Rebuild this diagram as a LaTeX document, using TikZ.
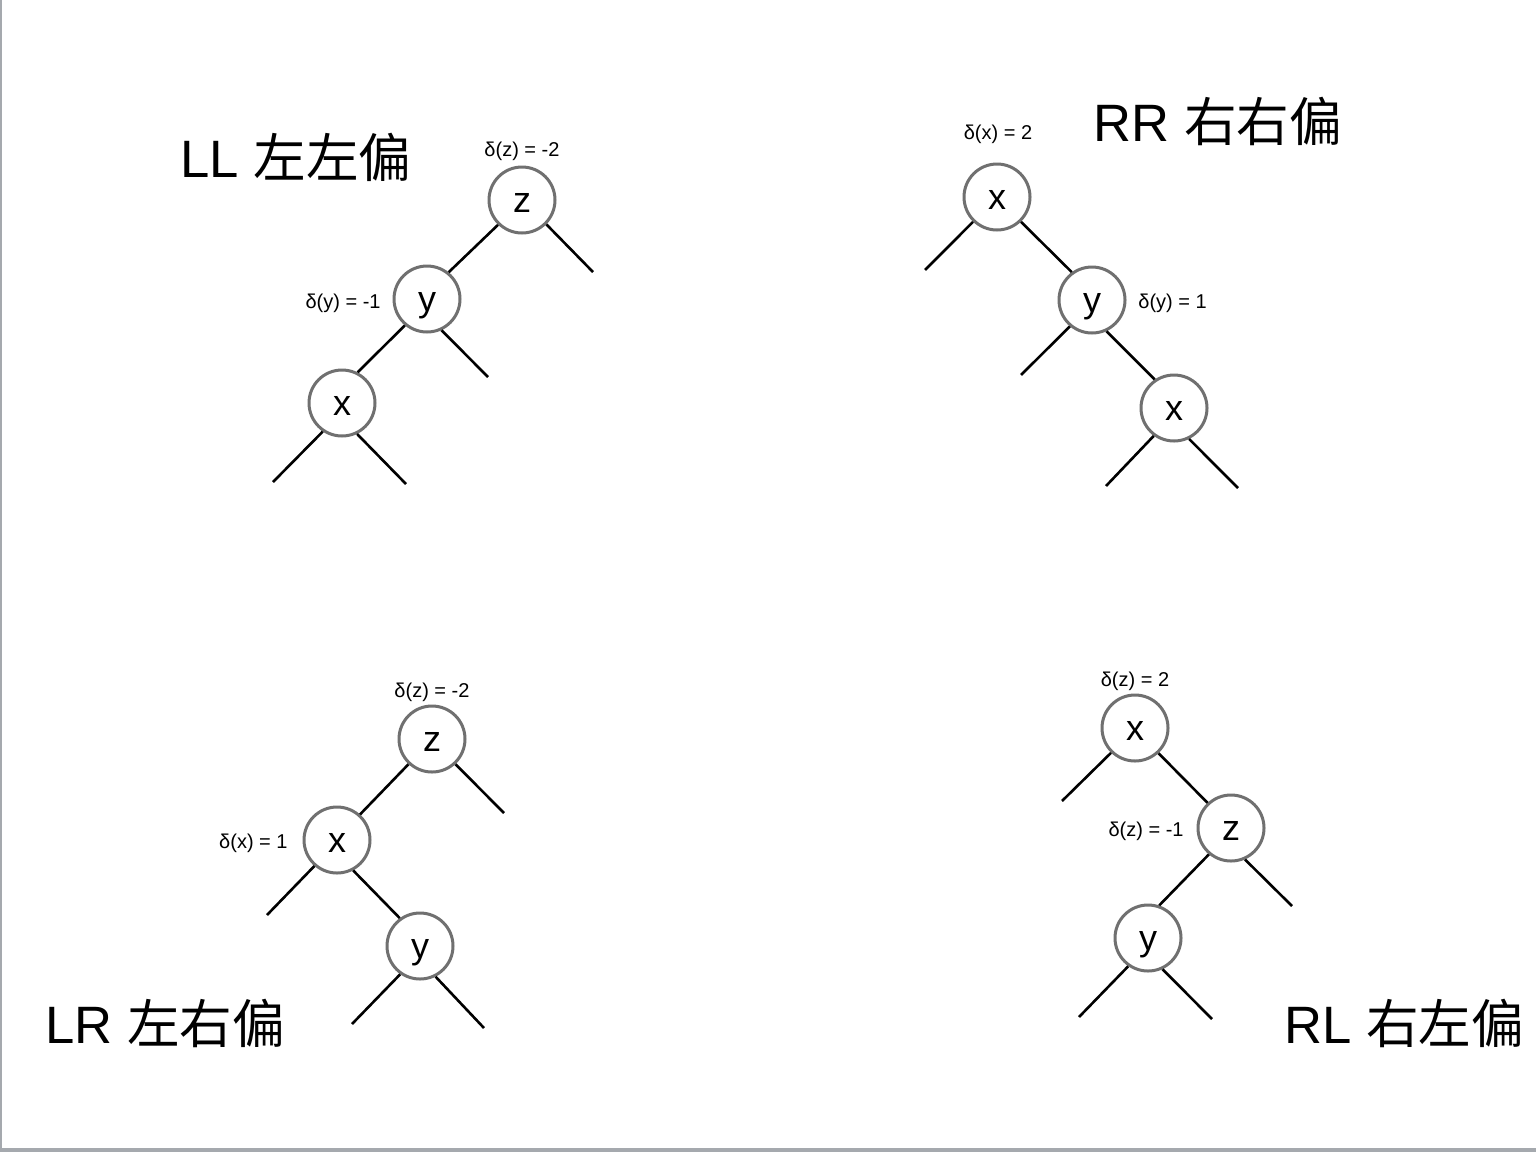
\documentclass[tikz,border=0pt]{standalone}
\usepackage{fontspec}
\setmainfont{Liberation Sans}
\newfontfamily\cjk{Noto Sans CJK SC}
\definecolor{circgray}{RGB}{112,112,112}
\definecolor{bordergray}{RGB}{165,169,174}
\begin{document}
\begin{tikzpicture}[x=0.5pt,y=-0.5pt,
  tn/.style={circle, draw=circgray, line width=1.5pt, minimum size=33pt, inner sep=0pt,
    font=\fontsize{18}{18}\selectfont, text height=14pt, text depth=1.7pt},
  br/.style={line width=1.3pt, black},
  lbl/.style={font=\fontsize{10}{12}\selectfont, inner sep=0pt},
  ttl/.style={font=\fontsize{26.3}{30}\selectfont, inner sep=0pt, anchor=base west}]
\path[use as bounding box] (0,0) rectangle (1536,1152);
\fill[white] (0,0) rectangle (1536,1152);
\fill[bordergray] (0,0) rectangle (2,1152);
\fill[bordergray] (0,1148) rectangle (1536,1152);

% ---------- LL ----------
\node[ttl] (llt) at (180,177) {LL {\cjk 左左偏}};
\node[tn] (llz) at (522,200) {z};
\node[tn] (lly) at (427,299) {y};
\node[tn] (llx) at (342,403) {x};
\node[lbl, anchor=base] (llzl) at (522,156) {δ(z) = -2};
\node[lbl, anchor=base east] (llyl) at (381,308) {δ(y) = -1};
\coordinate (llzr) at (593,272);
\coordinate (llyr) at (488,377);
\coordinate (llxa) at (273,482);
\coordinate (llxb) at (406,484);
\draw[br] (llz.226) -- (lly.51);
\draw[br] (lly.230) -- (llx.63);
\draw[br] (llz.-45) -- (llzr);
\draw[br] (lly.-65) -- (llyr);
\draw[br] (llx.236) -- (llxa);
\draw[br] (llx.-64) -- (llxb);

% ---------- RR ----------
\node[ttl] (rrt) at (1093,141) {RR {\cjk 右右偏}};
\node[tn] (rrx) at (997,197) {x};
\node[tn] (rry) at (1092,300) {y};
\node[tn] (rrx2) at (1174,408) {x};
\node[lbl, anchor=base] (rrxl) at (998,139) {δ(x) = 2};
\node[lbl, anchor=base west] (rryl) at (1138,308) {δ(y) = 1};
\coordinate (rrxa) at (925,270);
\coordinate (rrya) at (1021,375);
\coordinate (rrx2a) at (1106,486);
\coordinate (rrx2b) at (1238,488);
\draw[br] (rrx.-46) -- (rry.126);
\draw[br] (rry.-65) -- (rrx2.124);
\draw[br] (rrx.226) -- (rrxa);
\draw[br] (rry.230) -- (rrya);
\draw[br] (rrx2.234) -- (rrx2a);
\draw[br] (rrx2.-64) -- (rrx2b);

% ---------- LR ----------
\node[ttl] (lrt) at (45,1043) {LR {\cjk 左右偏}};
\node[tn] (lrz) at (432,739) {z};
\node[tn] (lrx) at (337,840) {x};
\node[tn] (lry) at (420,946) {y};
\node[lbl, anchor=base] (lrzl) at (432,697) {δ(z) = -2};
\node[lbl, anchor=base east] (lrxl) at (288,848) {δ(x) = 1};
\coordinate (lrzr) at (504,813);
\coordinate (lrxa) at (267,915);
\coordinate (lrya) at (352,1024);
\coordinate (lryb) at (484,1028);
\draw[br] (lrz.227) -- (lrx.48);
\draw[br] (lrx.-62) -- (lry.126);
\draw[br] (lrz.-47) -- (lrzr);
\draw[br] (lrx.229) -- (lrxa);
\draw[br] (lry.235) -- (lrya);
\draw[br] (lry.-63) -- (lryb);

% ---------- RL ----------
\node[ttl] (rlt) at (1284,1043) {RL {\cjk 右左偏}};
\node[tn] (rlx) at (1135,728) {x};
\node[tn] (rlz) at (1231,828) {z};
\node[tn] (rly) at (1148,938) {y};
\node[lbl, anchor=base] (rlxl) at (1135,686) {δ(z) = 2};
\node[lbl, anchor=base east] (rlzl) at (1184,836) {δ(z) = -1};
\coordinate (rlxa) at (1062,801);
\coordinate (rlzr) at (1292,906);
\coordinate (rlya) at (1079,1017);
\coordinate (rlyb) at (1212,1019);
\draw[br] (rlx.-47) -- (rlz.133);
\draw[br] (rlz.230) -- (rly.71);
\draw[br] (rlx.226) -- (rlxa);
\draw[br] (rlz.-66) -- (rlzr);
\draw[br] (rly.235) -- (rlya);
\draw[br] (rly.-65) -- (rlyb);
\end{tikzpicture}
\end{document}
